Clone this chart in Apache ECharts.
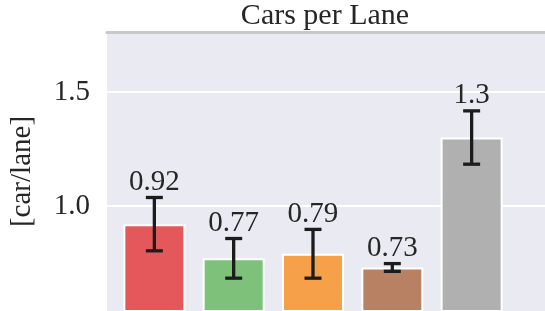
<!DOCTYPE html>
<html>
<head>
<meta charset="utf-8">
<script src="https://cdn.jsdelivr.net/npm/echarts@6/dist/echarts.min.js"></script>
<style>
  html, body { margin: 0; padding: 0; background: #fff; }
  #chart { width: 545px; height: 311px; }
</style>
</head>
<body>
<div id="chart"></div>
<script>
// bar means, error half-widths and the printed labels
var values = [0.92, 0.77, 0.79, 0.73, 1.3];
var errors = [0.117, 0.087, 0.107, 0.017, 0.117];
var labels = ['0.92', '0.77', '0.79', '0.73', '1.3'];
var colors = ['#E4585B', '#7DC17A', '#F7A04A', '#B88163', '#B0B0B0'];
var yTicks = [1.0, 1.5];

var serif = '"Liberation Serif", "DejaVu Serif", serif';
var textColor = '#262626';

var myChart = echarts.init(document.getElementById('chart'));

var barData = [];
var errData = [];
for (var i = 0; i < values.length; i++) {
  barData.push({ value: [i, values[i]], itemStyle: { color: colors[i] } });
  errData.push([i, values[i], errors[i]]);
}

var option = {
  backgroundColor: '#fff',
  animation: false,
  title: {
    text: 'Cars per Lane',
    left: 325,
    textAlign: 'center',
    top: 1,
    padding: 0,
    textStyle: { fontFamily: serif, fontSize: 30, fontWeight: 'normal', color: textColor }
  },
  grid: {
    left: 106, right: 0, top: 32, bottom: 0,
    show: true, backgroundColor: '#EAEAF2', borderWidth: 0
  },
  xAxis: {
    type: 'value',
    min: -0.597,
    max: 4.925,
    position: 'top',
    axisLine: { show: true, onZero: false, lineStyle: { color: '#C8C8C8', width: 3 } },
    axisTick: { show: false },
    axisLabel: { show: false },
    splitLine: { show: false }
  },
  yAxis: {
    type: 'value',
    min: 0.539,
    max: 1.763,
    name: '[car/lane]',
    nameLocation: 'middle',
    nameRotate: 90,
    nameGap: 70,
    nameTextStyle: { fontFamily: serif, fontSize: 29, color: textColor },
    axisLine: { show: false },
    axisTick: { show: false, customValues: yTicks },
    axisLabel: {
      customValues: yTicks,
      margin: 17,
      fontFamily: serif,
      fontSize: 29,
      color: textColor,
      formatter: function (v) { return v.toFixed(1); }
    },
    splitLine: { lineStyle: { color: '#fff', width: 2 } }
  },
  series: [
    {
      type: 'bar',
      barWidth: 62,
      data: barData,
      itemStyle: { borderColor: '#fff', borderWidth: 2 }
    },
    {
      type: 'custom',
      data: errData,
      z: 5,
      renderItem: function (params, api) {
        var x = api.value(0), v = api.value(1), e = api.value(2);
        var top = api.coord([x, v + e]);
        var bot = api.coord([x, v - e]);
        var cap = 8.5;
        var ls = { stroke: '#1C1C1C', lineWidth: 3.3 };
        return {
          type: 'group',
          children: [
            { type: 'line', shape: { x1: top[0], y1: top[1], x2: bot[0], y2: bot[1] }, style: ls },
            { type: 'line', shape: { x1: top[0] - cap, y1: top[1], x2: top[0] + cap, y2: top[1] }, style: ls },
            { type: 'line', shape: { x1: bot[0] - cap, y1: bot[1], x2: bot[0] + cap, y2: bot[1] }, style: ls },
            {
              type: 'text',
              style: {
                text: labels[params.dataIndex],
                x: top[0], y: top[1] - 1,
                align: 'center', verticalAlign: 'bottom',
                font: '29px ' + serif,
                fill: textColor
              }
            }
          ]
        };
      }
    }
  ]
};

option && myChart.setOption(option);
</script>
</body>
</html>
